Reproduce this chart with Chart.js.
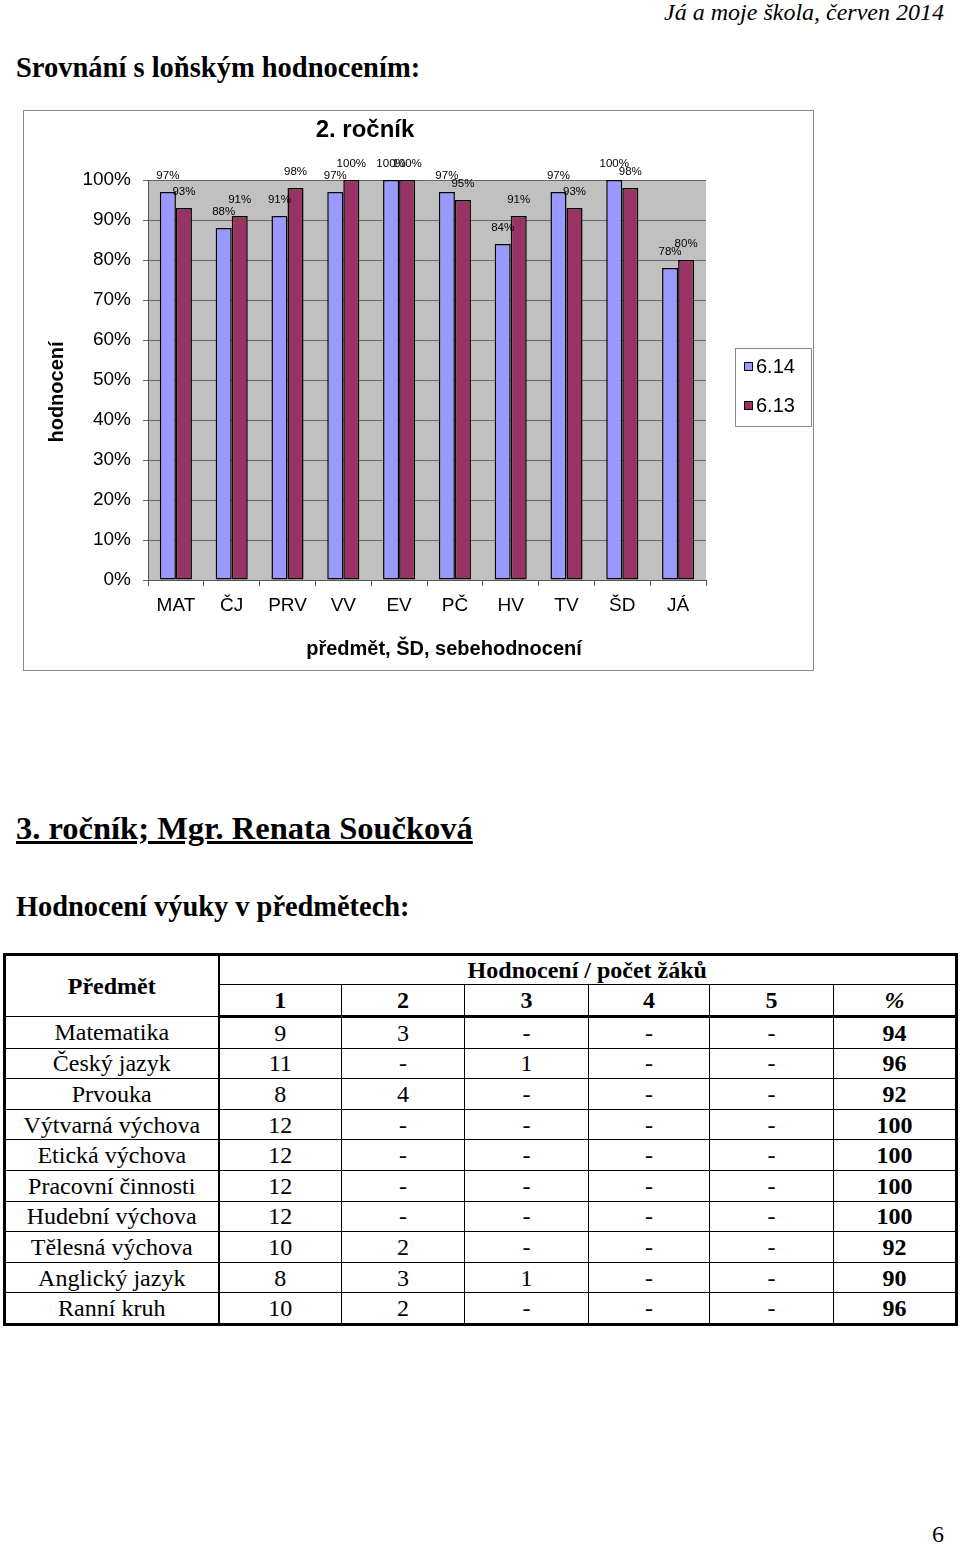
<!DOCTYPE html>
<html lang="cs">
<head>
<meta charset="UTF-8">
<title>Srovnání s loňským hodnocením</title>
<script src="https://cdn.jsdelivr.net/npm/chart.js"></script>
<style>
    body { margin: 0; background: #fff; font-family: "Liberation Serif", "Times New Roman", serif; color: #000; }
    .page { position: relative; width: 960px; height: 1546px; overflow: hidden; }
    .txt { position: absolute; line-height: 1; white-space: nowrap; }
    #chartBox { position: absolute; left: 23px; top: 110px; width: 791px; height: 561px; border: 1px solid #8a8a8a; box-sizing: border-box; }
    #chartBox canvas { display: block; }
    #grades { position: absolute; left: 3px; top: 953px; width: 954px; border-collapse: collapse; border: 3px solid #000; font-size: 24px; table-layout: fixed; }
    #grades td { border: 1px solid #000; text-align: center; padding: 0; line-height: 1; }
    #grades tr.h1 td { height: 28px; }
    #grades tr.h2 td { height: 30px; border-bottom: 3px solid #000; }
    #grades tr.row td { height: 29.6px; }
    #grades td.first { border-right: 2px solid #000; }
    #grades .b { font-weight: bold; }
</style>
</head>
<body>
<div class="page">
    <div class="txt" style="right:16px; top:0px; font-size:24px; font-style:italic;">Já a moje škola, červen 2014</div>
    <div class="txt" style="left:16px; top:54px; font-size:28.5px; font-weight:bold;">Srovnání s loňským hodnocením:</div>

    <div id="chartBox"><canvas id="ratingChart" width="789" height="559"></canvas></div>

    <div class="txt" style="left:16px; top:812px; font-size:32.5px; font-weight:bold; text-decoration:underline;">3. ročník; Mgr. Renata Součková</div>
    <div class="txt" style="left:16px; top:893px; font-size:28.4px; font-weight:bold;">Hodnocení výuky v předmětech:</div>

    <table id="grades"></table>

    <div class="txt" style="right:16px; top:1522px; font-size:24px;">6</div>
</div>

<script>
    // data grafu - 2. ročník
    const categories = ['MAT', 'ČJ', 'PRV', 'VV', 'EV', 'PČ', 'HV', 'TV', 'ŠD', 'JÁ'];
    const rating614 = [97, 88, 91, 97, 100, 97, 84, 97, 100, 78];
    const rating613 = [93, 91, 98, 100, 100, 95, 91, 93, 98, 80];
    const seriesNames = ['6.14', '6.13'];
    const yTicks = [0, 10, 20, 30, 40, 50, 60, 70, 80, 90, 100];

    // data tabulky - 3. ročník
    const subjects = ['Matematika', 'Český jazyk', 'Prvouka', 'Výtvarná výchova', 'Etická výchova',
        'Pracovní činnosti', 'Hudební výchova', 'Tělesná výchova', 'Anglický jazyk', 'Ranní kruh'];
    const grade1 = ['9', '11', '8', '12', '12', '12', '12', '10', '8', '10'];
    const grade2 = ['3', '-', '4', '-', '-', '-', '-', '2', '3', '2'];
    const grade3 = ['-', '1', '-', '-', '-', '-', '-', '-', '1', '-'];
    const grade4 = ['-', '-', '-', '-', '-', '-', '-', '-', '-', '-'];
    const grade5 = ['-', '-', '-', '-', '-', '-', '-', '-', '-', '-'];
    const percent = [94, 96, 92, 100, 100, 100, 100, 92, 90, 96];
    const gradeHeads = ['1', '2', '3', '4', '5'];

    // tabulka
    let table = document.getElementById('grades');
    let html = '<colgroup><col style="width:214px"><col style="width:123px"><col style="width:123px">' +
        '<col style="width:124px"><col style="width:121px"><col style="width:124px"><col style="width:123px"></colgroup>';
    html += '<tr class="h1"><td class="first b" rowspan="2">Předmět</td><td class="b" colspan="6">Hodnocení / počet žáků</td></tr>';
    html += '<tr class="h2">';
    for (let i = 0; i < gradeHeads.length; i++) {
        html += '<td class="b">' + gradeHeads[i] + '</td>';
    }
    html += '<td class="b"><i>%</i></td></tr>';
    for (let i = 0; i < subjects.length; i++) {
        html += '<tr class="row"><td class="first">' + subjects[i] + '</td><td>' + grade1[i] + '</td><td>' + grade2[i] +
            '</td><td>' + grade3[i] + '</td><td>' + grade4[i] + '</td><td>' + grade5[i] +
            '</td><td class="b">' + percent[i] + '</td></tr>';
    }
    table.innerHTML = html;

    // graf
    const sansFont = '"Liberation Sans", Arial, sans-serif';
    const plotLeft = 124, plotRight = 682, plotTop = 69, plotBottom = 469;

    const excelLook = {
        id: 'excelLook',
        beforeDraw(chart) {
            const a = chart.chartArea;
            const c = chart.ctx;
            c.save();
            c.fillStyle = '#c0c0c0';
            c.fillRect(a.left, a.top, a.right - a.left, a.bottom - a.top);
            c.restore();
        },
        afterDraw(chart) {
            const c = chart.ctx;
            c.save();
            // popisky hodnot
            c.font = '11.5px ' + sansFont;
            c.fillStyle = '#000';
            c.textAlign = 'center';
            c.textBaseline = 'middle';
            chart.data.datasets.forEach((ds, di) => {
                chart.getDatasetMeta(di).data.forEach((bar, i) => {
                    c.fillText(ds.data[i] + '%', bar.x, bar.y - 16);
                });
            });
            // popisky os
            c.font = 'bold 20px ' + sansFont;
            c.fillText('předmět, ŠD, sebehodnocení', 420, 538);
            c.save();
            c.translate(33, 281);
            c.rotate(-Math.PI / 2);
            c.fillText('hodnocení', 0, 0);
            c.restore();
            // legenda
            c.strokeStyle = '#8a8a8a';
            c.lineWidth = 1;
            c.strokeRect(711.5, 237.5, 76, 78);
            c.font = '20px ' + sansFont;
            c.textAlign = 'left';
            chart.data.datasets.forEach((ds, di) => {
                const y = 256 + di * 39;
                c.fillStyle = ds.backgroundColor;
                c.fillRect(720, y - 5, 9, 9);
                c.strokeStyle = '#000';
                c.strokeRect(720.5, y - 4.5, 8, 8);
                c.fillStyle = '#000';
                c.fillText(ds.label, 732, y);
            });
            c.restore();
        }
    };

    let ctx = document.getElementById('ratingChart').getContext('2d');
    let ratingChart = new Chart(ctx, {
        type: 'bar',
        data: {
            labels: categories,
            datasets: [{
                label: seriesNames[0],
                data: rating614,
                backgroundColor: '#9999ff',
                borderColor: '#000',
                borderWidth: 1.5,
                borderSkipped: false
            }, {
                label: seriesNames[1],
                data: rating613,
                backgroundColor: '#993366',
                borderColor: '#000',
                borderWidth: 1.5,
                borderSkipped: false
            }]
        },
        options: {
            responsive: false,
            animation: false,
            events: [],
            layout: {
                padding: { left: 0, right: 789 - plotRight, top: 0, bottom: 0 }
            },
            datasets: {
                bar: { categoryPercentage: 0.575, barPercentage: 1 }
            },
            plugins: {
                legend: { display: false },
                tooltip: { enabled: false },
                title: {
                    display: true,
                    text: '2. ročník',
                    color: '#000',
                    font: { family: sansFont, size: 24, weight: 'bold', lineHeight: 1.2 },
                    padding: { top: 4.6, bottom: plotTop - 4.6 - 28.8 }
                }
            },
            scales: {
                x: {
                    afterFit: s => { s.height = 559 - plotBottom; },
                    grid: { display: true, drawOnChartArea: false, drawTicks: true, tickLength: 6, color: '#555' },
                    border: { display: true, color: '#555' },
                    ticks: { color: '#000', padding: 8, font: { family: sansFont, size: 19 } }
                },
                y: {
                    min: 0,
                    max: 100,
                    afterFit: s => { s.width = plotLeft; },
                    afterBuildTicks: s => { s.ticks = yTicks.map(v => ({ value: v })); },
                    grid: { color: '#666', lineWidth: 1, tickLength: 5, drawTicks: true },
                    border: { display: true, color: '#555' },
                    ticks: {
                        color: '#000',
                        padding: 12,
                        font: { family: sansFont, size: 19 },
                        callback: v => v + '%'
                    }
                }
            }
        },
        plugins: [excelLook]
    });
</script>
</body>
</html>
